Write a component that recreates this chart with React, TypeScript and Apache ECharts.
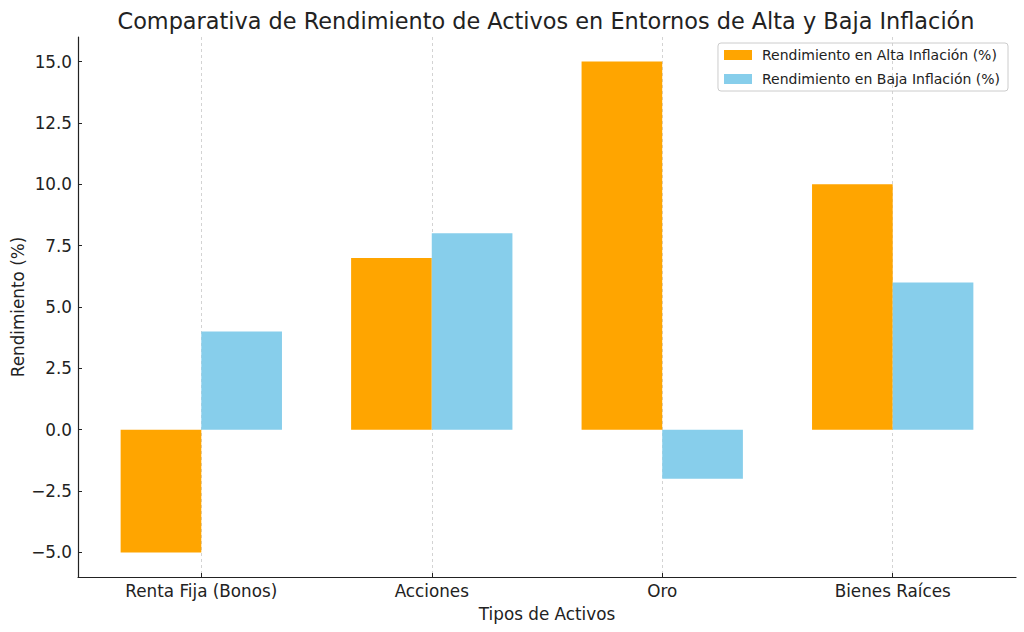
import React, { useEffect, useRef } from "react";
import * as echarts from "echarts";

const categories = ["Renta Fija (Bonos)", "Acciones", "Oro", "Bienes Raíces"];
const altaInflacion = [-5, 7, 15, 10];
const bajaInflacion = [4, 8, -2, 6];
const yTicks = [-5, -2.5, 0, 2.5, 5, 7.5, 10, 12.5, 15];
const xTicks = [0, 1, 2, 3];

const FONT = "DejaVu Sans";
const BAR_W = 0.35;

function barRenderer(side: number, color: string) {
  return (params: any, api: any) => {
    const i = api.value(0);
    const v = api.value(1);
    const xa = side < 0 ? i - BAR_W : i;
    const xb = side < 0 ? i : i + BAR_W;
    const p0 = api.coord([xa, 0]);
    const p1 = api.coord([xb, v]);
    return {
      type: "rect",
      shape: {
        x: Math.min(p0[0], p1[0]),
        y: Math.min(p0[1], p1[1]),
        width: Math.abs(p1[0] - p0[0]),
        height: Math.abs(p1[1] - p0[1]),
      },
      style: { fill: color },
    };
  };
}

export default function App() {
  const ref = useRef<HTMLDivElement>(null);
  useEffect(() => {
    document.body.style.margin = "0";
    const chart = echarts.init(ref.current!, null, { renderer: "svg" });
    chart.setOption({
      animation: false,
      textStyle: { fontFamily: FONT },
      title: {
        text: "Comparativa de Rendimiento de Activos en Entornos de Alta y Baja Inflación",
        left: 541,
        textAlign: "center",
        top: 5,
        textStyle: { fontFamily: FONT, fontSize: 22.4, fontWeight: "normal", color: "#222" },
      },
      legend: {
        orient: "vertical",
        right: 16,
        top: 43,
        itemWidth: 28,
        itemHeight: 10,
        itemGap: 10,
        padding: [5, 8, 5, 6],
        icon: "rect",
        borderColor: "#cccccc",
        borderWidth: 1,
        borderRadius: 3,
        textStyle: { fontFamily: FONT, fontSize: 14, color: "#222", padding: [0, 0, 0, 5] },
        data: ["Rendimiento en Alta Inflación (%)", "Rendimiento en Baja Inflación (%)"],
      },
      grid: { left: 78, right: 8, top: 37, bottom: 55, containLabel: false, outerBoundsMode: "none" },
      xAxis: {
        type: "value",
        min: -0.535,
        max: 3.535,
        name: "Tipos de Activos",
        nameLocation: "middle",
        nameGap: 28,
        nameTextStyle: { fontFamily: FONT, fontSize: 16.8, color: "#222" },
        axisLine: { show: true, onZero: false, lineStyle: { color: "#222", width: 1.2 } },
        axisTick: { show: true, inside: true, length: 4, customValues: xTicks, lineStyle: { color: "#222" } },
        axisLabel: {
          customValues: xTicks,
          formatter: (v: number) => categories[Math.round(v)] ?? "",
          fontFamily: FONT,
          fontSize: 16.8,
          color: "#222",
          margin: 5,
        },
        splitLine: { show: true, lineStyle: { color: "#c8c8c8", type: [3, 3], width: 0.8 } },
      },
      yAxis: {
        type: "value",
        min: -6,
        max: 16,
        name: "Rendimiento (%)",
        nameLocation: "middle",
        nameGap: 52,
        nameMoveOverlap: false,
        nameTextStyle: { fontFamily: FONT, fontSize: 16.8, color: "#222" },
        axisLine: { show: true, onZero: false, lineStyle: { color: "#222", width: 1.2 } },
        axisTick: { show: true, inside: true, length: 4, customValues: yTicks, lineStyle: { color: "#222" } },
        axisLabel: {
          customValues: yTicks,
          formatter: (v: number) => (v < 0 ? "\u2212" + Math.abs(v).toFixed(1) : v.toFixed(1)),
          fontFamily: FONT,
          fontSize: 16.8,
          color: "#222",
          margin: 6,
        },
        splitLine: { show: false },
      },
      series: [
        {
          name: "Rendimiento en Alta Inflación (%)",
          type: "custom",
          itemStyle: { color: "#FFA500" },
          encode: { x: 0, y: 1 },
          renderItem: barRenderer(-1, "#FFA500"),
          data: altaInflacion.map((v, i) => [i, v]),
        },
        {
          name: "Rendimiento en Baja Inflación (%)",
          type: "custom",
          itemStyle: { color: "#87CEEB" },
          encode: { x: 0, y: 1 },
          renderItem: barRenderer(1, "#87CEEB"),
          data: bajaInflacion.map((v, i) => [i, v]),
        },
      ],
    });
    return () => chart.dispose();
  }, []);
  return <div ref={ref} style={{ width: 1024, height: 632 }} />;
}
